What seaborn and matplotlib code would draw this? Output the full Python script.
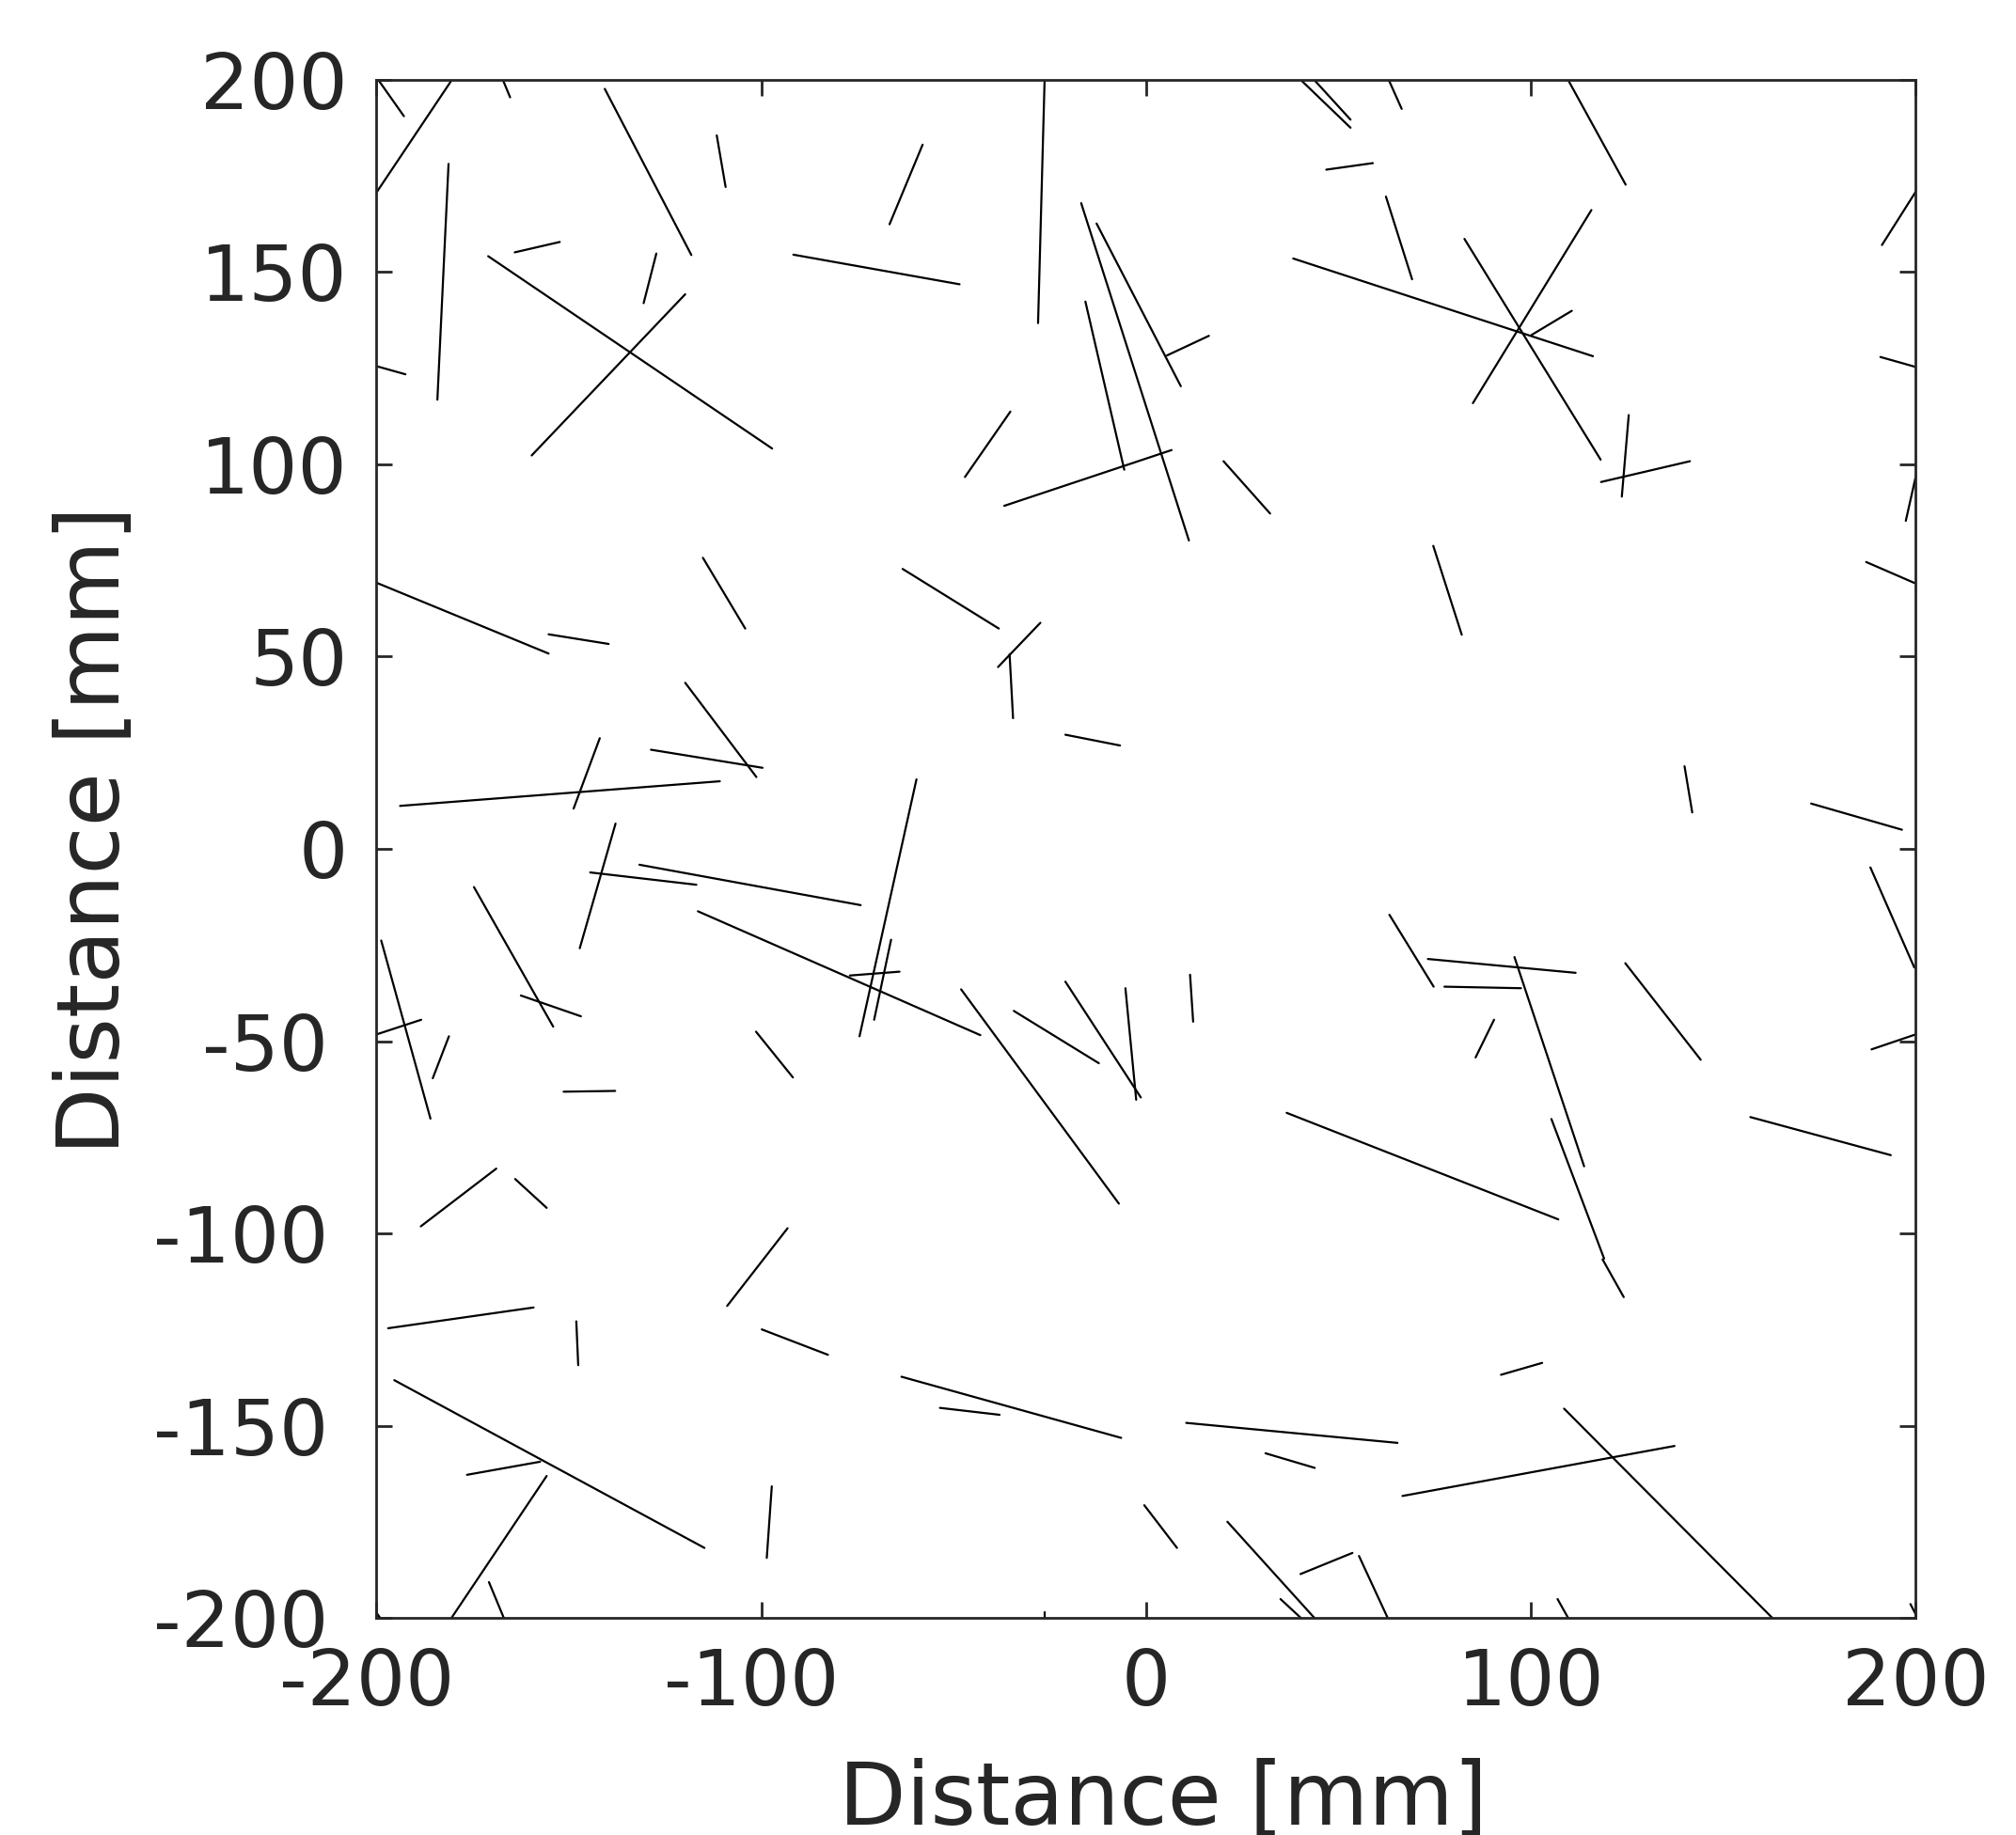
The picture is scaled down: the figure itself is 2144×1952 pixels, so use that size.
import numpy as np
import pandas as pd
import matplotlib
matplotlib.use("Agg")
import matplotlib.pyplot as plt
import seaborn as sns

# Fracture trace segments (start -> end), in mm
x_start = [-199.6, -180.4, -167.2, -140.7, -111.6, -58.1, -181.3, -164.1, -171.0, -127.3,
           -119.8, -91.7, -200.0, -115.2, -26.4, 40.1, 43.6, 63.0, 46.8, 62.3,
           38.2, -16.9, -12.9, 5.4, -15.8, -36.9, -35.3, 20.1, -63.3, 109.6,
           82.7, 115.7, 100.1, 125.4, 118.2, 191.2, 190.8, 200.0, 187.1, 74.6,
           -200.0, -155.3, -119.8, -128.7, -142.0, -193.9, -137.9, -144.5, -131.7, -116.5,
           -174.7, -162.5, -198.8, -200.0, -181.2, -151.4, -101.4, -59.7, -66.3, -77.0,
           -27.5, -35.5, -21.0, -48.1, -34.4, -21.0, -5.4, 11.4, 63.2, 139.9,
           172.8, 188.2, 73.2, 77.5, 95.7, 90.4, 124.5, 188.5, -168.9, -164.0,
           -93.2, -197.0, -148.1, -99.9, -195.4, -176.5, -155.8, -170.8, -97.3, 36.5,
           -63.6, -53.6, 10.4, 31.0, -0.5, 21.1, 34.9, 40.1, 55.3, 66.6,
           105.3, 118.6, 157.0, 92.2, 108.6, 106.9, 198.6, -26.4, -200.0]
y_start = [200.0, 200.0, 200.0, 197.6, 185.5, 183.1, 178.1, 155.1, 154.1, 154.8,
           144.2, 154.5, 125.5, 75.7, 200.0, 200.0, 200.0, 200.0, 176.6, 169.6,
           153.5, 167.9, 162.6, 128.3, 142.3, 89.2, 113.7, 100.8, 72.8, 200.0,
           158.6, 166.1, 133.6, 112.8, 95.4, 157.0, 127.9, 96.9, 74.6, 78.8,
           69.2, 55.8, 43.2, 25.8, 28.8, 11.2, 6.6, -6.1, -4.1, -16.2,
           -9.9, -38.1, -23.8, -48.2, -48.7, -63.1, -47.5, 18.1, -23.6, -32.9,
           58.8, 50.6, 29.7, -36.5, -42.1, -34.5, -36.2, -32.7, -17.1, 21.5,
           11.8, -4.8, -28.6, -35.8, -28.1, -44.4, -29.7, -52.1, -83.1, -85.8,
           -98.6, -124.6, -122.8, -124.9, -138.1, -162.7, -163.0, -190.6, -165.7, -68.6,
           -137.2, -145.3, -149.2, -157.1, -170.6, -174.9, -195.0, -188.5, -183.8, -168.2,
           -70.2, -106.7, -69.7, -136.7, -145.5, -195.0, -196.3, -198.4, -198.6]
x_end = [-192.9, -200.0, -165.3, -118.2, -109.3, -66.7, -184.2, -152.4, -97.2, -130.6,
         -159.7, -48.5, -192.5, -104.2, -28.1, 53.1, 53.1, 66.4, 58.9, 69.1,
         116.1, 11.1, 9.0, 16.3, -5.7, 6.6, -47.1, 32.2, -38.3, 124.6,
         118.1, 84.9, 110.6, 123.6, 141.3, 200.0, 200.0, 197.4, 200.0, 82.0,
         -155.3, -139.7, -101.3, -99.7, -148.8, -110.8, -147.2, -116.9, -74.2, -43.1,
         -154.1, -146.9, -186.0, -188.4, -185.4, -138.0, -91.8, -74.5, -70.7, -64.1,
         -38.5, -34.6, -6.8, -7.1, -12.3, -1.4, -2.6, 12.2, 74.7, 141.9,
         196.4, 199.6, 111.6, 97.4, 113.8, 85.6, 144.1, 200.0, -188.5, -155.8,
         -108.9, -159.2, -147.6, -82.7, -114.8, -157.5, -180.6, -166.9, -98.6, 107.1,
         -6.5, -38.1, 65.3, 43.8, 8.0, 43.8, 40.3, 53.6, 62.8, 137.3,
         119.0, 124.1, 193.5, 102.9, 162.8, 109.7, 200.0, -26.4, -199.0]
y_end = [190.5, 170.7, 195.4, 154.4, 172.1, 162.4, 116.8, 157.8, 104.1, 141.9,
         102.3, 146.8, 123.4, 57.3, 136.7, 187.5, 189.6, 192.4, 178.3, 148.1,
         128.1, 80.2, 120.3, 133.4, 98.6, 103.7, 96.7, 87.2, 57.3, 172.7,
         101.2, 115.9, 139.9, 91.6, 100.8, 170.9, 125.3, 85.3, 69.0, 55.7,
         50.8, 53.3, 18.7, 21.1, 10.5, 17.6, -25.8, -9.3, -14.6, -48.4,
         -46.2, -43.5, -70.1, -44.4, -59.6, -62.9, -59.4, -48.7, -44.4, -31.9,
         47.3, 34.0, 26.9, -92.2, -55.7, -64.6, -65.2, -44.9, -35.8, 9.5,
         5.0, -30.8, -32.2, -36.2, -82.5, -54.2, -54.8, -48.2, -98.1, -93.3,
         -118.8, -119.2, -134.2, -131.5, -181.7, -159.3, -200.0, -200.0, -184.3, -96.3,
         -153.1, -147.1, -154.4, -160.9, -181.7, -200.0, -200.0, -183.0, -200.0, -155.2,
         -106.5, -116.5, -79.6, -133.6, -200.0, -200.0, -199.0, -200.0, -200.0]

x_ticks = [-200, -100, 0, 100, 200]
y_ticks = [-200, -150, -100, -50, 0, 50, 100, 150, 200]
axis_label = "Distance [mm]"


def tick_text(v):
    # negative labels carry a small trailing gap, as in the original rendering
    return f"{v}\u2005" if v < 0 else f"{v}"


n = len(x_start)
df = pd.DataFrame({
    "seg": np.repeat(np.arange(n), 2),
    "x": np.column_stack([x_start, x_end]).ravel(),
    "y": np.column_stack([y_start, y_end]).ravel(),
})

sns.set_theme(style="ticks")
plt.rcParams["font.family"] = ["DejaVu Sans"]

fig = plt.figure(figsize=(10.72, 9.76), dpi=200)
ax = fig.add_axes([0.1868, 0.1181, 0.7635, 0.8385])

sns.lineplot(data=df, x="x", y="y", units="seg", estimator=None, sort=False,
             color="black", linewidth=0.8, ax=ax, legend=False)

ax.set_xlim(-200, 200)
ax.set_ylim(-200, 200)
ax.set_xticks(x_ticks)
ax.set_yticks(y_ticks)
ax.set_xticklabels([tick_text(v) for v in x_ticks])
ax.set_yticklabels([tick_text(v) for v in y_ticks])
ax.tick_params(direction="in", length=6, width=1.0, top=True, right=True,
               labelsize=29.5, pad=11, colors="#262626")
for s in ax.spines.values():
    s.set_visible(True)
    s.set_linewidth(1.0)
    s.set_color("#262626")
ax.set_xlabel(axis_label, fontsize=33.5, labelpad=14, color="#262626")
ax.set_ylabel(axis_label, fontsize=33.5, labelpad=6, color="#262626")
ax.xaxis.label.set_x(0.5113)
ax.yaxis.label.set_y(0.5121)

fig.savefig("out.png", dpi=200, facecolor="white")
